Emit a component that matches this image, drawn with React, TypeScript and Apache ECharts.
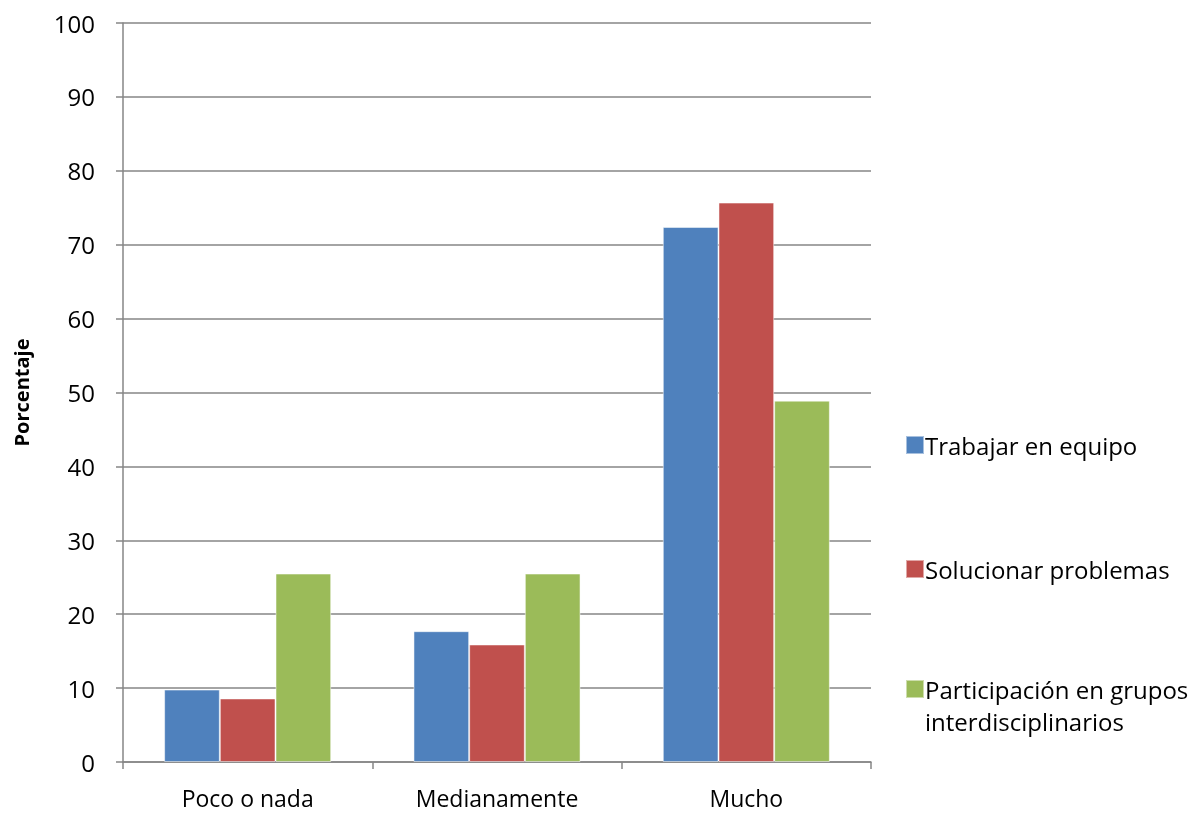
import React, { useEffect, useRef } from "react";
import * as echarts from "echarts";

const categories = ["Poco o nada", "Medianamente", "Mucho"];
const seriesNames = [
  "Trabajar en equipo",
  "Solucionar problemas",
  "Participación en grupos interdisciplinarios",
];
const trabajarEnEquipo = [9.8, 17.7, 72.4];
const solucionarProblemas = [8.6, 15.9, 75.7];
const participacionGrupos = [25.5, 25.5, 48.9];
const colors = ["#4F81BD", "#C0504D", "#9BBB59"];
const yTicks = { min: 0, max: 100, interval: 10 };

const FONT = "'Open Sans', Lato, sans-serif";

export default function App() {
  const ref = useRef<HTMLDivElement>(null);
  useEffect(() => {
    if (!ref.current) return;
    const chart = echarts.init(ref.current, undefined, { renderer: "svg" });
    const values = [trabajarEnEquipo, solucionarProblemas, participacionGrupos];
    const legendBase = {
      orient: "vertical",
      left: 900,
      itemWidth: 18,
      itemHeight: 18,
      itemGap: 0,
      icon: "rect",
      selectedMode: false,
    };
    chart.setOption({
      animation: false,
      textStyle: { fontFamily: FONT },
      grid: { left: 123, right: 329, top: 23, bottom: 51, containLabel: false },
      legend: [
        {
          ...legendBase,
          data: [seriesNames[0]],
          top: 428,
          textStyle: { fontSize: 24, lineHeight: 18, color: "#000", fontFamily: FONT, padding: [0, 0, 0, -4] },
        },
        {
          ...legendBase,
          data: [seriesNames[1]],
          top: 552,
          textStyle: { fontSize: 24, lineHeight: 18, color: "#000", fontFamily: FONT, padding: [0, 0, 0, -4] },
        },
        {
          ...legendBase,
          data: [seriesNames[2]],
          top: 636,
          formatter: () => " \nParticipación en grupos\ninterdisciplinarios",
          textStyle: { fontSize: 24, lineHeight: 32, color: "#000", fontFamily: FONT, padding: [0, 0, 0, -4] },
        },
      ],
      xAxis: {
        type: "category",
        data: categories,
        axisLine: { lineStyle: { color: "#868686", width: 1.5 } },
        axisTick: { show: true, length: 7, lineStyle: { color: "#868686", width: 1.5 } },
        axisLabel: { color: "#000", fontSize: 23, lineHeight: 22, margin: 25, fontFamily: FONT },
      },
      yAxis: {
        type: "value",
        min: yTicks.min,
        max: yTicks.max,
        interval: yTicks.interval,
        name: "Porcentaje",
        nameLocation: "middle",
        nameGap: 92,
        nameRotate: 90,
        nameTextStyle: { fontSize: 20, fontWeight: "bold", color: "#000", fontFamily: FONT },
        axisLine: { show: true, lineStyle: { color: "#868686", width: 1.5 } },
        axisTick: { show: true, length: 7, lineStyle: { color: "#868686", width: 1.5 } },
        axisLabel: { color: "#000", fontSize: 24, margin: 28, fontFamily: FONT },
        splitLine: { show: true, lineStyle: { color: "#868686", width: 1.5 } },
      },
      series: seriesNames.map((n, i) => ({
        name: n,
        type: "bar",
        data: values[i],
        barGap: "0%",
        barCategoryGap: "33%",
        itemStyle: { color: colors[i], borderColor: "rgba(255,255,255,0.5)", borderWidth: 1 },
      })),
    });
    return () => chart.dispose();
  }, []);
  return (
    <div
      ref={ref}
      style={{ position: "fixed", left: 0, top: 0, width: 1200, height: 813 }}
    />
  );
}
